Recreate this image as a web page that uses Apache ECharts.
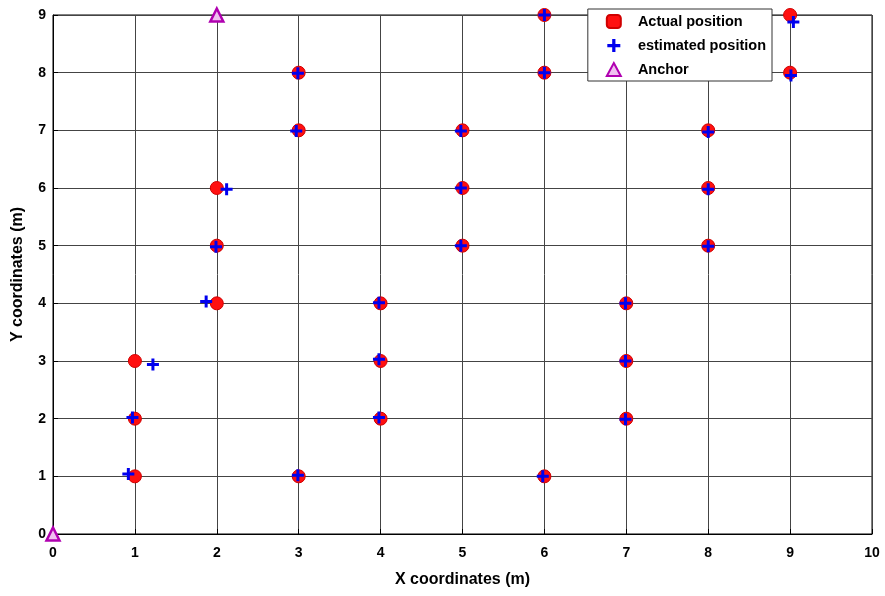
<!DOCTYPE html>
<html>
<head>
<meta charset="utf-8">
<script src="https://cdn.jsdelivr.net/npm/echarts@6/dist/echarts.min.js"></script>
<style>html,body{margin:0;padding:0;background:#fff}#c{width:885px;height:596px}</style>
</head>
<body>
<div id="c"></div>
<script>
var xTicks = [0,1,2,3,4,5,6,7,8,9,10];
var yTicks = [0,1,2,3,4,5,6,7,8,9];
var actualX = [1,1,1,2,2,2,3,3,3,4,4,4,5,5,5,6,6,6,7,7,7,8,8,8,9,9];
var actualY = [1,2,3,4,5,6,1,7,8,2,3,4,5,6,7,1,8,9,2,3,4,5,6,7,8,9];
var estX = [0.92,0.97,1.22,1.87,1.99,2.12,2.99,2.97,2.99,3.98,3.98,3.98,4.98,4.98,4.98,5.98,6.0,6.0,6.99,6.99,6.99,8.0,8.0,8.0,9.01,9.04];
var estY = [1.04,2.02,2.94,4.03,4.98,5.98,1.02,6.99,7.99,2.02,3.03,4.01,5.0,6.0,6.99,1.0,8.0,9.0,1.99,3.0,4.0,4.99,5.98,6.97,7.95,8.88];
var anchorX = [0,2];
var anchorY = [0,9];

function pairs(xs, ys){ return xs.map(function(v,i){ return [v, ys[i]]; }); }

var plusPath = 'path://M3,0h2v3h3v2h-3v3h-2v-3h-3v-2h3z';
var font = 'Liberation Sans, Arial, Helvetica, sans-serif';

var chart = echarts.init(document.getElementById('c'), null, {renderer:'canvas'});
chart.setOption({
  animation:false,
  backgroundColor:'#fff',
  grid:{left:53, right:13, top:15, bottom:62, show:true, borderColor:'#000', borderWidth:1},
  legend:{
    orient:'vertical', right:113, top:9,
    backgroundColor:'#fff', borderColor:'#333', borderWidth:1, padding:[5,6,4,18],
    itemWidth:14, itemHeight:13, itemGap:9,
    formatter:function(n){ return '   ' + n; },
    textStyle:{fontFamily:font, fontSize:14.5, fontWeight:'bold', color:'#000'},
    data:[{name:'Actual position', icon:'roundRect'},'estimated position','Anchor']
  },
  xAxis:{
    type:'value', min:0, max:10, interval:1,
    name:'X coordinates (m)', nameLocation:'middle', nameGap:38,
    nameTextStyle:{fontFamily:font, fontSize:16, fontWeight:'bold', color:'#000'},
    axisLine:{show:true, onZero:false, lineStyle:{color:'#000', width:1}},
    axisTick:{show:true, inside:true, length:5, lineStyle:{color:'#000'}},
    axisLabel:{fontFamily:font, fontSize:14, fontWeight:'bold', color:'#000', margin:12},
    splitLine:{show:true, lineStyle:{color:'#444', width:1}}
  },
  yAxis:{
    type:'value', min:0, max:9, interval:1,
    name:'Y coordinates (m)', nameLocation:'middle', nameGap:27, nameRotate:90,
    nameTextStyle:{fontFamily:font, fontSize:16, fontWeight:'bold', color:'#000'},
    axisLine:{show:true, onZero:false, lineStyle:{color:'#000', width:1}},
    axisTick:{show:true, inside:true, length:5, lineStyle:{color:'#000'}},
    axisLabel:{fontFamily:font, fontSize:14, fontWeight:'bold', color:'#000', margin:7},
    splitLine:{show:true, lineStyle:{color:'#444', width:1}}
  },
  series:[
    {name:'Actual position', type:'scatter', symbol:'circle', symbolSize:13, z:2,
     itemStyle:{color:'#ff1010', borderColor:'#d00000', borderWidth:1, opacity:1},
     data:pairs(actualX, actualY)},
    {name:'estimated position', type:'scatter', symbol:plusPath, symbolSize:12, z:3,
     itemStyle:{color:'#0000ee', opacity:1},
     data:pairs(estX, estY)},
    {name:'Anchor', type:'scatter', symbol:'triangle', symbolSize:13, z:4,
     itemStyle:{color:'#f0c0f0', borderColor:'#b000b0', borderWidth:2.5, opacity:1},
     data:pairs(anchorX, anchorY)}
  ]
});
</script>
</body>
</html>
